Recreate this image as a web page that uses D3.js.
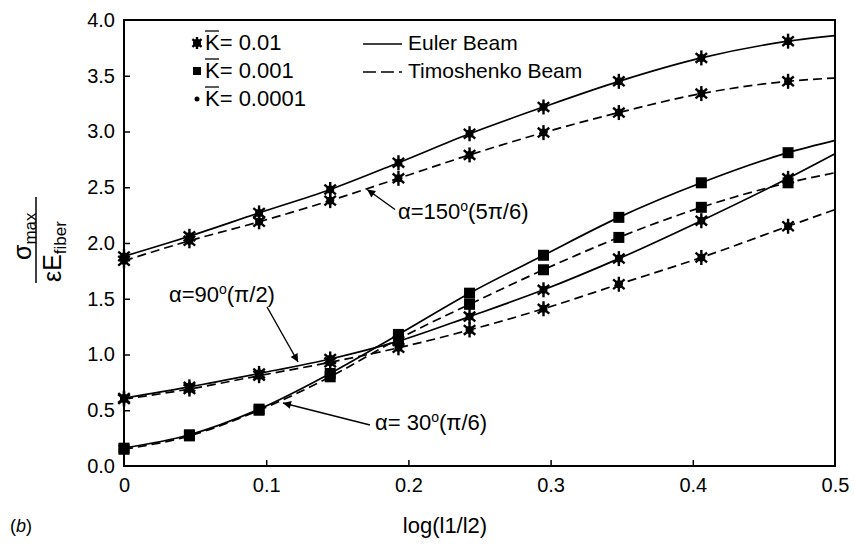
<!DOCTYPE html>
<html>
<head>
<meta charset="utf-8">
<script src="https://cdn.jsdelivr.net/npm/d3@7"></script>
<style>
  body { margin: 0; background: #fff; }
  svg { font-family: "Liberation Sans", Arial, Helvetica, sans-serif; }
</style>
</head>
<body>
<svg id="chart" width="854" height="548"></svg>
<script>
  // x positions (log(l1/l2)) of the computed points; last one is the line end
  var xVals = [0, 0.046, 0.095, 0.145, 0.193, 0.243, 0.295, 0.348, 0.406, 0.467, 0.5];

  var euler150 = [1.88, 2.06, 2.27, 2.48, 2.72, 2.98, 3.22, 3.45, 3.66, 3.81, 3.86];
  var timo150  = [1.84, 2.02, 2.19, 2.38, 2.58, 2.79, 2.99, 3.17, 3.34, 3.45, 3.48];
  var euler90  = [0.61, 0.71, 0.83, 0.96, 1.12, 1.34, 1.58, 1.86, 2.20, 2.58, 2.80];
  var timo90   = [0.60, 0.69, 0.81, 0.93, 1.06, 1.22, 1.41, 1.63, 1.87, 2.15, 2.30];
  var euler30  = [0.16, 0.28, 0.51, 0.83, 1.18, 1.55, 1.89, 2.23, 2.54, 2.81, 2.92];
  var timo30   = [0.15, 0.27, 0.50, 0.80, 1.14, 1.45, 1.76, 2.05, 2.32, 2.54, 2.63];

  var xTicks = [0, 0.1, 0.2, 0.3, 0.4, 0.5];
  var yTicks = [0, 0.5, 1.0, 1.5, 2.0, 2.5, 3.0, 3.5, 4.0];

  var series = [
    { values: euler150, dashed: false, marker: 'star' },
    { values: timo150,  dashed: true,  marker: 'star' },
    { values: euler90,  dashed: false, marker: 'star' },
    { values: timo90,   dashed: true,  marker: 'star' },
    { values: euler30,  dashed: false, marker: 'square' },
    { values: timo30,   dashed: true,  marker: 'square' }
  ];

  var svg = d3.select('#chart');
  var margin = { left: 124, right: 19, top: 20, bottom: 82 };
  var width = 854 - margin.left - margin.right;
  var height = 548 - margin.top - margin.bottom;

  var x = d3.scaleLinear().domain([0, 0.5]).range([margin.left, margin.left + width]);
  var y = d3.scaleLinear().domain([0, 4]).range([margin.top + height, margin.top]);

  // arrowhead
  svg.append('defs').append('marker')
    .attr('id', 'arrow')
    .attr('viewBox', '0 0 10 10')
    .attr('refX', 10).attr('refY', 5)
    .attr('markerWidth', 12).attr('markerHeight', 8)
    .attr('markerUnits', 'userSpaceOnUse')
    .attr('orient', 'auto')
    .append('path').attr('d', 'M0,0 L10,5 L0,10 z').attr('fill', '#000');

  // axes (ticks pointing inwards)
  var xAxis = d3.axisBottom(x).tickValues(xTicks).tickSize(-6).tickPadding(12)
    .tickFormat(function(d) { return d === 0 ? '0' : d3.format('.1f')(d); });
  var yAxis = d3.axisLeft(y).tickValues(yTicks).tickSize(-6).tickPadding(9)
    .tickFormat(d3.format('.1f'));

  var gx = svg.append('g').attr('transform', 'translate(0,' + (margin.top + height) + ')').call(xAxis);
  var gy = svg.append('g').attr('transform', 'translate(' + margin.left + ',0)').call(yAxis);
  [gx, gy].forEach(function(g) {
    g.select('.domain').remove();
    g.selectAll('.tick line').attr('stroke', '#000').attr('stroke-width', 1.5);
    g.selectAll('.tick text').attr('fill', '#000').style('font-size', '20px');
  });
  gx.selectAll('.tick').filter(function(d) { return d === 0 || d === 0.5; }).select('line').remove();
  gy.selectAll('.tick').filter(function(d) { return d === 0 || d === 4; }).select('line').remove();

  // frame
  svg.append('rect')
    .attr('x', margin.left).attr('y', margin.top)
    .attr('width', width).attr('height', height)
    .attr('fill', 'none').attr('stroke', '#000').attr('stroke-width', 2);

  var line = d3.line()
    .x(function(d) { return x(d[0]); })
    .y(function(d) { return y(d[1]); })
    .curve(d3.curveMonotoneX);

  function drawStar(g, cx, cy, r) {
    var s = g.append('g').attr('transform', 'translate(' + cx + ',' + cy + ')');
    [90, 40, 140].forEach(function(a) {
      var rad = a * Math.PI / 180;
      s.append('line')
        .attr('x1', -r * Math.cos(rad)).attr('y1', -r * Math.sin(rad))
        .attr('x2', r * Math.cos(rad)).attr('y2', r * Math.sin(rad))
        .attr('stroke', '#000').attr('stroke-width', 2.4);
    });
    s.append('circle').attr('r', 4).attr('fill', '#000');
  }

  function drawSquare(g, cx, cy, size) {
    g.append('rect')
      .attr('x', cx - size / 2).attr('y', cy - size / 2)
      .attr('width', size).attr('height', size)
      .attr('fill', '#000');
  }

  var plot = svg.append('g');
  series.forEach(function(s) {
    var pts = xVals.map(function(xv, i) { return [xv, s.values[i]]; });
    plot.append('path')
      .attr('d', line(pts))
      .attr('fill', 'none')
      .attr('stroke', '#000')
      .attr('stroke-width', 1.7)
      .attr('stroke-dasharray', s.dashed ? '9,5' : null);
    // markers on all computed points but not on the line end
    pts.slice(0, pts.length - 1).forEach(function(p) {
      if (s.marker === 'star') drawStar(plot, x(p[0]), y(p[1]), 7.5);
      else drawSquare(plot, x(p[0]), y(p[1]), 11);
    });
  });

  // annotations: [text x, text y, tail x, tail y, tip x, tip y] in data units
  var annotations = [
    { label: ['α=150', '(5π/6)'], pos: [0.1927, 2.215, 0.1906, 2.30, 0.171, 2.48] },
    { label: ['α=90', '(π/2)'],   pos: [0.0316, 1.47, 0.1006, 1.426, 0.1224, 0.933] },
    { label: ['α= 30', '(π/6)'],  pos: [0.1765, 0.323, 0.173, 0.368, 0.1118, 0.565] }
  ];
  annotations.forEach(function(a) {
    var p = a.pos;
    svg.append('line')
      .attr('x1', x(p[2])).attr('y1', y(p[3]))
      .attr('x2', x(p[4])).attr('y2', y(p[5]))
      .attr('stroke', '#000').attr('stroke-width', 1.4)
      .attr('marker-end', 'url(#arrow)');
    var t = svg.append('text')
      .attr('x', x(p[0])).attr('y', y(p[1]))
      .style('font-size', '22px');
    t.append('tspan').text(a.label[0]);
    t.append('tspan').attr('dy', -8).style('font-size', '14px').text('o');
    t.append('tspan').attr('dy', 8).text(a.label[1]);
  });

  // legend
  var kLabels = ['= 0.01', '= 0.001', '= 0.0001'];
  var legendRows = [50, 78, 106];
  kLabels.forEach(function(lbl, i) {
    var by = legendRows[i];
    if (i === 0) drawStar(svg, 197, by - 7, 6);
    else if (i === 1) drawSquare(svg, 197, by - 7, 8);
    else svg.append('circle').attr('cx', 197).attr('cy', by - 7).attr('r', 2.5).attr('fill', '#000');
    svg.append('text').attr('x', 205).attr('y', by).style('font-size', '22px')
      .text('K' + lbl);
    svg.append('line').attr('x1', 205).attr('x2', 219)
      .attr('y1', by - 19).attr('y2', by - 19)
      .attr('stroke', '#000').attr('stroke-width', 1.3);
  });

  var beamLabels = ['Euler Beam', 'Timoshenko Beam'];
  beamLabels.forEach(function(lbl, i) {
    var by = legendRows[i];
    svg.append('line').attr('x1', 363).attr('x2', 402)
      .attr('y1', by - 6).attr('y2', by - 6)
      .attr('stroke', '#000').attr('stroke-width', 1.6)
      .attr('stroke-dasharray', i === 1 ? '13,5' : null);
    svg.append('text').attr('x', 408).attr('y', by).style('font-size', '21px').text(lbl);
  });

  // y axis label as a fraction
  var yl = svg.append('g').attr('transform', 'translate(36,240) rotate(-90)');
  yl.append('line').attr('x1', -43).attr('x2', 43).attr('y1', 0).attr('y2', 0)
    .attr('stroke', '#000').attr('stroke-width', 1.5);
  var num = yl.append('text').attr('x', -20).attr('y', -5).style('font-size', '25px');
  num.append('tspan').text('σ');
  num.append('tspan').attr('dy', 5).style('font-size', '17px').text('max');
  var den = yl.append('text').attr('x', -42).attr('y', 25).style('font-size', '25px');
  den.append('tspan').text('εE');
  den.append('tspan').attr('dy', 5).style('font-size', '17px').text('fiber');

  // x axis label and panel tag
  svg.append('text').attr('x', 445).attr('y', 533).attr('text-anchor', 'middle')
    .style('font-size', '22px').text('log(l1/l2)');
  svg.append('text').attr('x', 10).attr('y', 532)
    .style('font-size', '18px').html('(<tspan font-style="italic">b</tspan>)');
</script>
</body>
</html>
